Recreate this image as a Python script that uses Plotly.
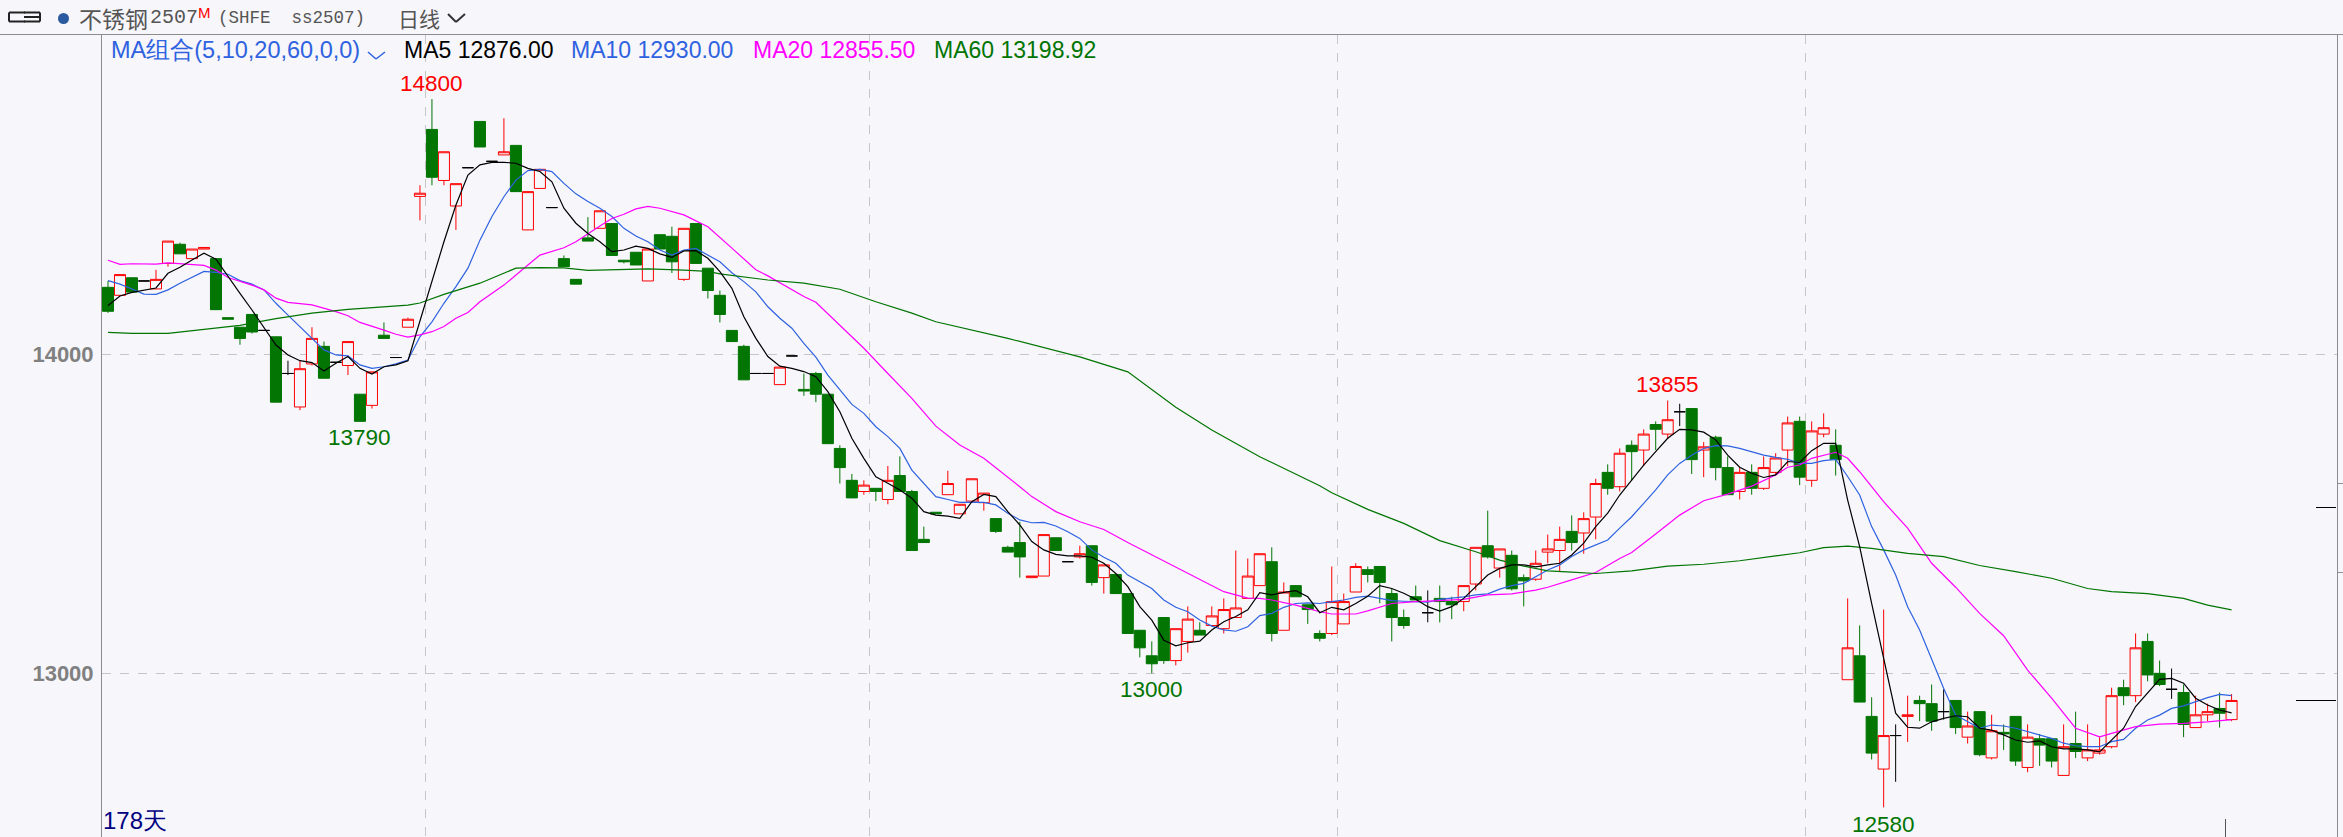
import plotly.graph_objects as go

W, H = 2343, 837
ML, MR, MT, MB = 102, 5, 35, 0
BG = "#f6f6fb"
RED = "#ff0000"
GREEN = "#027502"
BLUE = "#2f62e0"
MAGENTA = "#ff00ff"

opens = [14210,14185,14240,14230,14205,14285,14345,14300,14330,14300,14115,14085,14125,14075,14055,13940,13835,13970,14025,13975,
13965,13875,13840,14060,13990,14085,14495,14705,14545,14465,14585,14730,14605,14625,14655,14390,14520,14460,14300,14235,
14365,14395,14410,14295,14320,14230,14375,14370,14235,14410,14270,14185,14075,14025,13940,13940,13905,13995,13890,13940,
13875,13705,13605,13570,13580,13545,13620,13570,13420,13505,13560,13500,13540,13535,13485,13395,13410,13300,13305,13425,
13350,13365,13400,13300,13310,13250,13135,13055,13175,13040,13100,13135,13150,13140,13175,13235,13275,13350,13135,13275,
13215,13125,13125,13155,13255,13325,13335,13250,13175,13240,13190,13235,13225,13225,13280,13400,13330,13370,13300,13295,
13380,13385,13445,13440,13490,13630,13585,13715,13700,13780,13750,13820,13830,13700,13740,13645,13570,13630,13580,13630,
13700,13790,13605,13750,13715,12980,13055,12865,12700,12805,12865,12915,12905,12880,12915,12800,12880,12735,12815,12865,
12705,12795,12795,12680,12780,12735,12750,12770,12955,12930,13100,13000,12950,12940,12830,12870,12890,12855]
highs = [14230,14250,14240,14230,14265,14355,14350,14330,14335,14300,14115,14085,14125,14075,14055,13980,13980,14085,14040,13975,
14040,13875,13945,14100,13990,14115,14530,14800,14635,14535,14585,14730,14605,14740,14655,14510,14580,14460,14310,14235,
14430,14450,14410,14295,14320,14330,14375,14400,14395,14410,14270,14200,14075,14030,13940,13940,13960,13995,13940,13945,
13875,13715,13625,13605,13580,13650,13680,13575,13460,13505,13635,13530,13610,13565,13485,13400,13475,13305,13435,13425,
13350,13400,13400,13340,13310,13250,13135,13100,13175,13140,13210,13160,13210,13235,13385,13360,13375,13395,13285,13275,
13215,13135,13335,13250,13345,13335,13335,13265,13200,13275,13260,13275,13240,13275,13395,13510,13390,13385,13310,13385,
13435,13460,13495,13505,13610,13655,13705,13730,13765,13790,13855,13845,13830,13725,13745,13680,13645,13655,13680,13690,
13805,13805,13790,13815,13765,13235,13150,12925,13200,12840,12930,12930,12965,12950,12915,12880,12880,12870,12840,12865,
12840,12810,12795,12840,12880,12840,12800,12955,12980,13125,13125,13040,13015,12965,12930,12905,12940,12935]
lows = [14130,14185,14195,14230,14205,14275,14315,14300,14330,14140,14110,14030,14065,14075,13850,13935,13825,13965,13925,13975,
13935,13790,13830,14050,13990,14085,14420,14530,14530,14390,14585,14650,14605,14625,14510,14390,14520,14460,14275,14220,
14355,14395,14310,14285,14280,14230,14330,14255,14230,14285,14175,14100,14040,13920,13940,13940,13905,13995,13870,13850,
13720,13595,13550,13560,13540,13530,13570,13385,13410,13500,13560,13500,13540,13510,13440,13380,13300,13300,13305,13385,
13350,13360,13275,13250,13250,13125,13050,13000,13030,13025,13065,13120,13150,13125,13175,13235,13275,13100,13135,13240,
13155,13100,13120,13155,13255,13285,13220,13100,13140,13230,13160,13160,13170,13195,13260,13360,13300,13260,13210,13290,
13345,13320,13385,13375,13420,13560,13570,13605,13650,13700,13735,13775,13625,13615,13605,13560,13545,13560,13575,13620,
13650,13590,13585,13740,13620,12980,12910,12730,12580,12660,12785,12850,12820,12855,12810,12780,12740,12730,12760,12710,
12690,12710,12705,12680,12735,12725,12745,12765,12900,12910,12975,12960,12920,12800,12830,12850,12830,12850]
closes = [14135,14250,14195,14230,14235,14355,14315,14330,14335,14140,14110,14050,14070,14075,13850,13940,13955,14050,13925,13975,
14040,13790,13945,14050,13990,14110,14505,14555,14635,14535,14585,14650,14605,14635,14510,14510,14580,14460,14275,14220,
14355,14450,14310,14290,14280,14330,14330,14290,14395,14285,14200,14125,14040,13920,13940,13940,13960,13995,13885,13875,
13720,13645,13550,13590,13570,13605,13570,13385,13410,13500,13595,13530,13610,13565,13445,13380,13365,13305,13435,13385,
13350,13375,13285,13340,13250,13125,13080,13030,13040,13140,13170,13120,13180,13200,13205,13305,13375,13125,13255,13240,
13200,13110,13225,13225,13335,13310,13285,13175,13150,13230,13190,13225,13215,13275,13395,13365,13390,13265,13290,13345,
13390,13420,13410,13485,13595,13580,13690,13695,13750,13765,13795,13820,13670,13710,13645,13560,13630,13580,13645,13675,
13785,13615,13760,13770,13670,13080,12910,12750,12805,12805,12870,12905,12850,12880,12830,12835,12745,12820,12810,12725,
12800,12775,12725,12770,12755,12760,12760,12930,12930,13080,12995,12965,12950,12840,12870,12880,12875,12915]

ma5 = [14153,14183,14194,14202,14208,14254,14273,14296,14317,14298,14243,14191,14139,14085,14029,13998,13980,13974,13948,13972,
13993,13956,13938,13961,13967,13980,14104,14233,14353,14468,14562,14594,14602,14602,14599,14583,14573,14541,14458,14411,
14379,14353,14322,14327,14339,14332,14315,14304,14324,14325,14301,14259,14207,14118,14050,13993,13963,13956,13946,13930,
13883,13820,13737,13674,13616,13596,13575,13549,13507,13496,13493,13486,13538,13561,13554,13507,13465,13413,13387,13373,
13368,13368,13364,13345,13313,13272,13209,13167,13104,13086,13096,13101,13136,13162,13178,13199,13253,13246,13254,13259,
13240,13190,13207,13199,13219,13242,13275,13266,13251,13232,13209,13195,13209,13235,13272,13308,13329,13340,13340,13334,
13340,13345,13371,13408,13460,13502,13559,13606,13653,13695,13737,13765,13763,13756,13732,13684,13646,13627,13614,13622,
13664,13661,13698,13721,13721,13543,13397,13219,13042,12875,12831,12828,12848,12859,12867,12864,12828,12822,12807,12791,
12784,12788,12770,12763,12763,12760,12754,12791,12828,12896,12937,12981,12984,12969,12922,12901,12885,12876]
ma10 = [14231,14220,14205,14189,14188,14202,14223,14241,14260,14257,14251,14231,14220,14202,14160,14123,14087,14050,14014,13998,
13995,13967,13956,13961,13970,13982,14055,14102,14160,14212,14270,14358,14432,14494,14546,14576,14580,14573,14536,14503,
14479,14458,14432,14395,14371,14353,14327,14311,14327,14332,14311,14290,14256,14228,14196,14149,14113,14082,14034,13991,
13935,13888,13843,13815,13773,13742,13705,13637,13596,13554,13545,13536,13537,13536,13528,13502,13481,13472,13473,13462,
13444,13423,13387,13364,13345,13308,13287,13266,13230,13207,13193,13167,13148,13136,13132,13146,13181,13188,13207,13219,
13221,13219,13225,13230,13238,13242,13235,13228,13226,13225,13223,13232,13235,13240,13246,13249,13264,13275,13282,13303,
13324,13340,13366,13387,13402,13418,13455,13491,13533,13575,13622,13658,13684,13705,13714,13713,13705,13695,13684,13677,
13671,13658,13658,13667,13671,13617,13559,13460,13387,13308,13209,13136,13042,12953,12869,12848,12828,12838,12835,12828,
12817,12807,12796,12781,12773,12770,12770,12786,12793,12828,12854,12869,12890,12898,12911,12924,12934,12930]

ma20_idx = [0,1,2,4,5,7,8,9,10,12,13,14,15,17,19,20,21,23,24,25,26,27,28,29,30,31,33,35,36,38,39,41,42,43,44,45,46,48,50,52,
54,55,56,58,59,61,63,65,67,69,71,73,75,76,77,79,81,83,85,87,89,91,93,95,96,97,99,101,102,104,105,107,109,111,113,115,117,119,120,122,
124,126,127,129,131,133,135,137,139,140,141,142,143,144,145,146,148,150,152,154,156,158,160,162,164,166,167,169,171,173,175,177]
ma20_val = [14295,14282,14284,14283,14287,14283,14279,14264,14241,14217,14202,14176,14163,14155,14134,14121,14100,14076,14063,14054,14061,14071,14087,14113,14131,14165,14217,14280,14311,14334,14353,14402,14426,14439,14456,14464,14458,14437,14400,14333,
14265,14246,14225,14181,14163,14092,14019,13940,13862,13775,13716,13674,13616,13585,13554,13507,13475,13451,13410,13371,13334,13295,13256,13236,13235,13230,13214,13193,13186,13186,13196,13219,13225,13228,13232,13246,13249,13261,13270,13293,
13316,13360,13379,13437,13496,13541,13562,13587,13622,13646,13653,13674,13684,13693,13674,13632,13538,13455,13345,13270,13188,13118,13010,12922,12828,12801,12812,12833,12841,12843,12848,12855]
ma60_idx = [0,2,5,7,9,11,14,17,20,23,25,26,28,31,34,36,38,40,42,45,48,50,51,55,58,61,64,67,69,72,75,81,85,89,92,96,101,102,105,108,
111,114,116,118,120,122,124,127,130,133,136,139,141,143,145,147,150,153,156,159,162,165,167,170,173,175,177]
ma60_val = [14069,14066,14066,14074,14083,14091,14112,14129,14141,14149,14154,14161,14188,14223,14270,14272,14271,14263,14265,14268,14264,14260,14252,14233,14223,14204,14165,14129,14102,14076,14050,13992,13945,13834,13763,13679,13588,13566,13514,13470,
13416,13381,13355,13336,13321,13317,13313,13321,13336,13342,13353,13368,13378,13394,13399,13392,13376,13366,13338,13319,13298,13266,13256,13250,13235,13214,13199]

grid_x = [26.5, 63.5, 102.5, 141.5]
price_ticks = [13000, 14000]
extremes = [(27, "14800", RED, 16), (21, "13790", GREEN, -16), (130, "13855", RED, 16), (87, "13000", GREEN, -16), (148, "12580", GREEN, -17)]
legend_items = [("MA5 12876.00", 402, "#000000"), ("MA10 12930.00", 569, BLUE), ("MA20 12855.50", 751, MAGENTA), ("MA60 13198.92", 932, GREEN)]


def px(x):
    return (x - ML) / (W - ML - MR)


def py(y):
    return 1 - (y - MT) / (H - MT - MB)


def subset(test):
    idx = [i for i in range(len(opens)) if test(opens[i], closes[i])]
    return dict(x=idx, open=[opens[i] for i in idx], high=[highs[i] for i in idx],
                low=[lows[i] for i in idx], close=[closes[i] for i in idx])


def candle(test, up_line, up_fill, down_line, down_fill):
    return go.Candlestick(**subset(test), whiskerwidth=0, hoverinfo="skip", showlegend=False,
                          increasing=dict(line=dict(color=up_line, width=1), fillcolor=up_fill),
                          decreasing=dict(line=dict(color=down_line, width=1), fillcolor=down_fill))


fig = go.Figure()
fig.add_trace(candle(lambda o, c: c > o, RED, BG, RED, BG))
fig.add_trace(candle(lambda o, c: c < o, GREEN, GREEN, GREEN, GREEN))
fig.add_trace(candle(lambda o, c: c == o, "#000000", "#000000", "#000000", "#000000"))

for xs, ys, color in [(list(range(len(ma10))), ma10, BLUE), (ma20_idx, ma20_val, MAGENTA),
                      (ma60_idx, ma60_val, GREEN), (list(range(len(ma5))), ma5, "#000000")]:
    fig.add_trace(go.Scatter(x=xs, y=ys, mode="lines", line=dict(color=color, width=1.2),
                             hoverinfo="skip", showlegend=False))

ann = []


def text(x, y, s, color, size, family="Liberation Sans", anchor="left"):
    ann.append(dict(xref="paper", yref="paper", x=px(x), y=py(y), text=s, showarrow=False,
                    xanchor=anchor, yanchor="middle", xshift=0, yshift=0,
                    font=dict(color=color, size=size, family=family)))


CJK = "Noto Sans CJK SC"
MONO = "Liberation Mono"
text(77, 18, "不锈钢", "#555555", 23, CJK)
text(148, 18, "2507", "#555555", 20, MONO)
text(196, 12, "M", RED, 15)
text(216, 18, "(SHFE  ss2507)", "#555555", 17.5, MONO)
text(396, 18, "日线", "#555555", 21, CJK)
text(109, 50, "MA组合(5,10,20,60,0,0)", BLUE, 23.5)
for s, x, c in legend_items:
    text(x, 50, s, c, 23)
text(101, 820, "178天", "#000080", 24)

for i, s, c, shift in extremes:
    val = highs[i] if shift > 0 else lows[i]
    ann.append(dict(xref="x", yref="y", x=i, y=val, text=s, showarrow=False, yshift=shift,
                    xanchor="center", yanchor="middle",
                    font=dict(color=c, size=22.5, family="Liberation Sans")))

shapes = []


def seg(x0, y0, x1, y1, color, width=1):
    shapes.append(dict(type="line", xref="paper", yref="paper", x0=px(x0), y0=py(y0), x1=px(x1), y1=py(y1),
                       line=dict(color=color, width=width), layer="above"))


seg(0, 34.5, W, 34.5, "#8c8c8c")
seg(101.5, 35, 101.5, H, "#8c8c8c")
seg(2337.5, 35, 2337.5, H, "#8c8c8c")
seg(2316, 507.5, 2336, 507.5, "#000000")
seg(2296, 700.5, 2336, 700.5, "#000000")
seg(2225.5, 819, 2225.5, H, "#555555")
seg(2338, 483.5, W, 483.5, "#8c8c8c")
seg(2338, 572.5, W, 572.5, "#8c8c8c")
# chevrons
for pts, col, wd in [([(448, 14), (456, 22), (465, 14)], "#333333", 2), ([(368, 52), (376, 59), (385, 52)], BLUE, 1.5)]:
    for a, b in zip(pts, pts[1:]):
        seg(a[0], a[1], b[0], b[1], col, wd)
# link icon and dot
for x0, y0, x1, y1 in [(9, 12.5, 25, 12.5), (9, 21.5, 25, 21.5), (9, 12.5, 9, 21.5), (24, 17, 40, 17),
                       (24, 12.5, 40, 12.5), (24, 21.5, 40, 21.5), (40, 12.5, 40, 21.5)]:
    seg(x0, y0, x1, y1, "#222222", 2)
shapes.append(dict(type="circle", xref="paper", yref="paper", x0=px(58), x1=px(69), y0=py(24), y1=py(13),
                   fillcolor="#2b5aa0", line=dict(width=0)))

fig.update_layout(
    width=W, height=H, autosize=False,
    margin=dict(l=ML, r=MR, t=MT, b=MB, pad=0),
    paper_bgcolor=BG, plot_bgcolor=BG,
    showlegend=False, boxgap=0.08, boxgroupgap=0, boxmode="overlay",
    hovermode=False, annotations=ann, shapes=shapes,
    xaxis=dict(type="linear", range=[-0.5, 185.87], rangeslider=dict(visible=False),
               tickvals=grid_x, showticklabels=False, ticks="", showgrid=True,
               gridcolor="#c6c6c6", griddash="dash", gridwidth=1, zeroline=False, showline=False),
    yaxis=dict(range=[12487, 15001], tickvals=price_ticks, ticktext=[str(v) for v in price_ticks],
               ticks="outside", ticklen=3, tickcolor=BG, showgrid=True, gridcolor="#c6c6c6", griddash="dash",
               gridwidth=1, zeroline=False, showline=False,
               tickfont=dict(family="Liberation Sans", size=22, color="#808080", weight=700)),
)

fig.write_html("out.html", config=dict(displayModeBar=False),
               post_script="document.body.style.margin='0';")
